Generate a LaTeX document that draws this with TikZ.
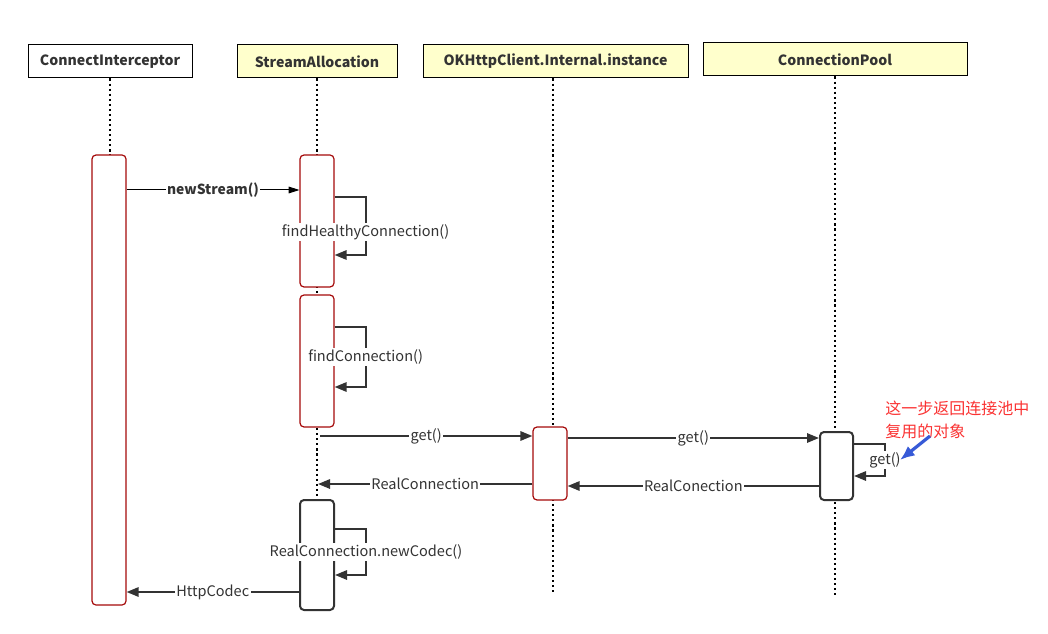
\documentclass[tikz,border=0pt]{standalone}
\usepackage{fontspec}
\setmainfont{Noto Sans CJK SC}
\usetikzlibrary{arrows.meta, positioning, fit}
\definecolor{actred}{RGB}{165, 10, 10}
\definecolor{headyellow}{RGB}{255, 255, 204}
\definecolor{inkgray}{RGB}{51, 51, 51}
\definecolor{notered}{RGB}{250, 50, 50}
\definecolor{noteblue}{RGB}{55, 90, 215}
\tikzset{
	head/.style={rectangle, draw=black, line width=0.75pt, fill=white, minimum height=24.75pt, font=\bfseries\fontsize{10.6}{12}\selectfont, text=inkgray},
	yhead/.style={head, fill=headyellow},
	lifeline/.style={line width=1.6pt, dash pattern=on 1.6pt off 2.2pt},
	act/.style={rectangle, rounded corners=3pt, draw=actred, line width=0.9pt, fill=white, inner sep=0pt},
	gact/.style={act, draw=inkgray, line width=1.5pt},
	msg/.style={-{Triangle[length=9pt, width=7pt]}, line width=1.5pt, draw=inkgray},
	thinmsg/.style={-{Triangle[length=8pt, width=5pt]}, line width=0.75pt, draw=black},
	lbl/.style={fill=white, inner sep=1pt, font=\fontsize{10.9}{12}\selectfont, text=inkgray},
	note/.style={align=left, inner sep=0pt, text=notered, font=\fontsize{12}{17}\selectfont},
	notearrow/.style={-{Latex[length=11pt, width=9pt]}, line width=2.4pt, draw=noteblue},
}

\begin{document}
\begin{tikzpicture}[x=0.75pt, y=-0.75pt]
		\useasboundingbox (0,0) rectangle (1048,634);
		% participants
		\node[head, minimum width=123pt] (ci) at (110,61.5) {ConnectInterceptor};
		\node[yhead, minimum width=120pt] (sa) at (317,61.5) {StreamAllocation};
		\node[yhead, minimum width=198.75pt] (okc) at (555.5,61.5) {OKHttpClient.Internal.instance};
		\node[yhead, minimum width=198pt] (pool) at (835,59.5) {ConnectionPool};
		% lifelines
		\coordinate (ciEnd) at (110,155);
		\coordinate (saEnd) at (317,500);
		\coordinate (okcEnd) at (553,595);
		\coordinate (poolEnd) at (835,595);
		\draw[lifeline] (ci.south) -- (ciEnd);
		\draw[lifeline] (sa.south) -- (saEnd);
		\draw[lifeline] (okc.south -| okcEnd) -- (okcEnd);
		\draw[lifeline] (pool.south) -- (poolEnd);
		% activations
		\node[act, fit={(92,155) (126,605)}] (ci1) {};
		\node[act, fit={(300,155) (334,287)}] (sa1) {};
		\node[act, fit={(300,295) (334,427)}] (sa2) {};
		\node[gact, fit={(300,500) (334,610)}] (sa3) {};
		\node[act, fit={(533,427) (567,500)}] (okc1) {};
		\node[gact, fit={(820,432) (853,500)}] (pool1) {};
		% messages
		\draw[thinmsg] (ci1.east |- 0,190) -- node[lbl, font=\bfseries\fontsize{10.4}{12}\selectfont]{newStream()} (sa1.west |- 0,190);
		\draw[msg] (sa1.east |- 0,197) -- ++(31,0) |- node[lbl, pos=0.3]{findHealthyConnection()} (sa1.east |- 0,255);
		\draw[msg] (sa2.east |- 0,327) -- ++(31,0) |- node[lbl, pos=0.25]{findConnection()} (sa2.east |- 0,387);
		\coordinate (saGet) at (320,436);
		\coordinate (saRet) at (318,484);
		\draw[msg] (saGet) -- node[lbl]{get()} (okc1.west |- saGet);
		\draw[msg] (okc1.east |- 0,438) -- node[lbl]{get()} (pool1.west |- 0,438);
		\draw[msg] (pool1.east |- 0,444) -- ++(31,0) |- node[lbl, pos=0.25]{get()} (pool1.east |- 0,476);
		\draw[msg] (pool1.west |- 0,486) -- node[lbl]{RealConection} (okc1.east |- 0,486);
		\draw[msg] (okc1.west |- saRet) -- node[lbl]{RealConnection} (saRet);
		\draw[msg] (sa3.east |- 0,529) -- ++(31,0) |- node[lbl, pos=0.25]{RealConnection.newCodec()} (sa3.east |- 0,575);
		\draw[msg] (sa3.west |- 0,592) -- node[lbl]{HttpCodec} (ci1.east |- 0,592);
		% note
		\node[note, anchor=north west] (memo) at (885,401) {这一步返回连接池中\\复用的对象};
		\coordinate (memoTail) at (930,436);
		\coordinate (memoTip) at (900,460);
		\draw[notearrow] (memoTail) -- (memoTip);
	\end{tikzpicture}
\end{document}
